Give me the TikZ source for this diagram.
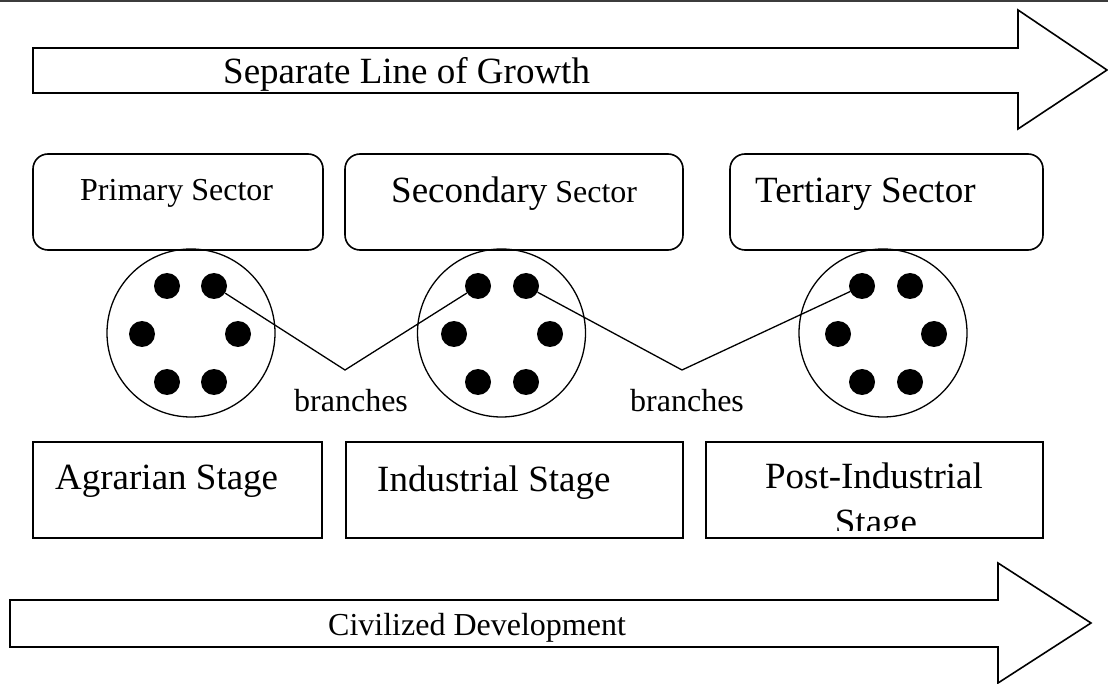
\documentclass[tikz,border=0pt]{standalone}
\usepackage{fontspec}
\setmainfont{Liberation Serif}
\begin{document}
\begin{tikzpicture}[x=1pt,y=-1pt,
  boxline/.style={draw=black, line width=1.6pt},
  sectorbox/.style={boxline, rectangle, rounded corners=15pt, inner sep=0pt, minimum height=96pt},
  stagebox/.style={boxline, rectangle, inner sep=0pt, minimum height=96pt},
  ring/.style={circle, draw=black, line width=1.3pt, minimum size=168pt, inner sep=0pt},
  blackdot/.style={circle, fill=black, minimum size=26pt, inner sep=0pt},
  txt/.style={inner sep=0pt, anchor=base west},
  bigfont/.style={font=\fontsize{37}{44}\selectfont},
  smallfont/.style={font=\fontsize{32}{38}\selectfont},
  branch/.style={line width=1.3pt},
  bigarrow/.style={draw=black, line width=1.6pt, fill=white, line join=miter}
]
\useasboundingbox (0,0) rectangle (1108,684);
% top border line
\draw[line width=2pt, draw={rgb,255:red,60;green,60;blue,60}] (0,1) -- (1108,1);

% top arrow
\draw[bigarrow] (33,48) -- (1018,48) -- (1018,10) -- (1107,70) -- (1018,129) -- (1018,93) -- (33,93) -- cycle;
\node[txt, bigfont] (growth) at (223,84) {Separate Line of Growth};

% sector boxes
\node[sectorbox, minimum width=290pt] (s1) at (178,202) {};
\node[sectorbox, minimum width=338pt] (s2) at (514,202) {};
\node[sectorbox, minimum width=313pt] (s3) at (886.5,202) {};
\node[txt, smallfont] (s1t) at (80,201) {Primary Sector};
\node[txt, bigfont] (s2t) at (391,203) {Secondary\fontsize{32}{38}\selectfont{} Sector};
\node[txt, bigfont] (s3t) at (755,203) {Tertiary Sector};

% circles
\node[ring] (c1) at (191,333) {};
\node[ring] (c2) at (501.5,333) {};
\node[ring] (c3) at (883,333) {};

% dots circle 1
\node[blackdot] (c1a) at (167,286) {};
\node[blackdot] (c1b) at (214,286) {};
\node[blackdot] (c1c) at (142,334) {};
\node[blackdot] (c1d) at (238,334) {};
\node[blackdot] (c1e) at (167,382) {};
\node[blackdot] (c1f) at (214,382) {};
% dots circle 2
\node[blackdot] (c2a) at (478,286) {};
\node[blackdot] (c2b) at (526,286) {};
\node[blackdot] (c2c) at (454,334) {};
\node[blackdot] (c2d) at (550,334) {};
\node[blackdot] (c2e) at (478,382) {};
\node[blackdot] (c2f) at (526,382) {};
% dots circle 3
\node[blackdot] (c3a) at (862,286) {};
\node[blackdot] (c3b) at (910,286) {};
\node[blackdot] (c3c) at (838,334) {};
\node[blackdot] (c3d) at (934,334) {};
\node[blackdot] (c3e) at (862,382) {};
\node[blackdot] (c3f) at (910,382) {};

% branch lines
\coordinate (v1) at (345,370);
\coordinate (v2) at (682,370);
\draw[branch] (c1b) -- (v1) -- (c2a);
\draw[branch] (c2b) -- (v2) -- (c3a);
\node[txt, smallfont] (b1) at (294,411) {branches};
\node[txt, smallfont] (b2) at (630,411) {branches};

% stage boxes
\node[stagebox, minimum width=289pt] (g1) at (177.5,490) {};
\node[stagebox, minimum width=337pt] (g2) at (514.5,490) {};
\node[stagebox, minimum width=337pt] (g3) at (874.5,490) {};
\node[txt, bigfont] (g1t) at (55,489) {Agrarian Stage};
\node[txt, bigfont] (g2t) at (377,491) {Industrial Stage};
\node[inner sep=0pt, anchor=base, bigfont] (g3t) at (874,488) {Post-Industrial};
\begin{scope}
  \clip (707,443) rectangle (1042,530);
  \node[inner sep=0pt, anchor=base, bigfont] (g3u) at (876,534) {Stage};
\end{scope}

% bottom arrow
\draw[bigarrow] (10,600) -- (998,600) -- (998,563) -- (1091,623) -- (998,683) -- (998,647) -- (10,647) -- cycle;
\node[txt, smallfont] (civ) at (328,635) {Civilized Development};
\end{tikzpicture}
\end{document}
